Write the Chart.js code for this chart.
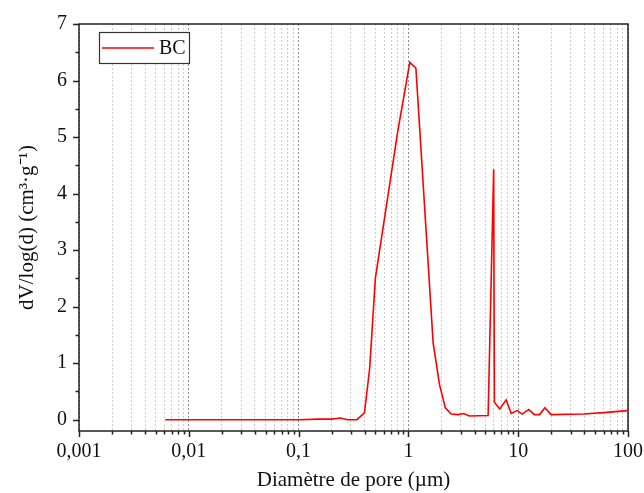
<!DOCTYPE html>
<html>
<head>
<meta charset="utf-8">
<script src="https://cdn.jsdelivr.net/npm/chart.js@4"></script>
<style>
  body{ margin:0; background:#fff; }
</style>
</head>
<body>
<canvas id="poreChart" width="644" height="493"></canvas>
<script>
// pore size distribution
const diameters = [0.0061, 0.01, 0.02, 0.05, 0.1, 0.15, 0.2, 0.24, 0.28, 0.34, 0.398, 0.444, 0.5, 0.8, 1.03, 1.17, 1.68, 1.92, 2.17, 2.45, 2.85, 3.19, 3.59, 5.32, 5.98, 6.07, 6.79, 7.77, 8.63, 9.78, 10.87, 12.49, 14.03, 15.67, 17.5, 19.9, 39.5, 64.3, 98.3];
const bcValues  = [0, 0, 0, 0, 0, 0.01, 0.01, 0.03, 0, 0, 0.12, 0.91, 2.5, 5.1, 6.32, 6.22, 1.36, 0.62, 0.21, 0.10, 0.09, 0.11, 0.065, 0.075, 4.43, 0.31, 0.19, 0.35, 0.11, 0.16, 0.10, 0.18, 0.09, 0.09, 0.21, 0.09, 0.10, 0.13, 0.16];

const decades = [0.001, 0.01, 0.1, 1, 10, 100];
const decadeLabels = ["0,001", "0,01", "0,1", "1", "10", "100"];
const yMajor = [0, 1, 2, 3, 4, 5, 6, 7];

Chart.defaults.font.family = "'Liberation Serif', serif";
Chart.defaults.color = "#111";

function xTicks(){
  const out = [];
  decades.forEach((d, i) => {
    out.push({ value:d, major:true, label:decadeLabels[i] });
    if(i < decades.length - 1){
      for(let m = 2; m <= 9; m++) out.push({ value:m * d, major:false, label:"" });
    }
  });
  return out;
}

function yTicks(){
  const out = [];
  yMajor.forEach((v, i) => {
    out.push({ value:v, major:true, label:String(v) });
    if(i < yMajor.length - 1) out.push({ value:v + 0.5, major:false, label:"" });
  });
  return out;
}

const framePlugin = {
  id:"frame",
  afterDraw(chart){
    const { ctx, chartArea:a, scales:{ x, y } } = chart;
    ctx.save();
    ctx.strokeStyle = "#222";
    ctx.lineWidth = 1.5;
    ctx.beginPath();
    x.ticks.forEach(t => {
      const px = Math.round(x.getPixelForValue(t.value)) + 0.5;
      ctx.moveTo(px, a.bottom);
      ctx.lineTo(px, a.bottom + (t.major ? 6 : 3.5));
    });
    y.ticks.forEach(t => {
      const py = Math.round(y.getPixelForValue(t.value)) + 0.5;
      ctx.moveTo(a.left, py);
      ctx.lineTo(a.left - (t.major ? 6 : 3.5), py);
    });
    ctx.stroke();
    ctx.strokeRect(a.left, a.top, a.right - a.left, a.bottom - a.top);

    // legend box
    const ds = chart.data.datasets[0];
    const bx = a.left + 20, by = a.top + 8, bw = 90, bh = 31;
    ctx.lineWidth = 1.2;
    ctx.strokeStyle = "#333";
    ctx.fillStyle = "#fff";
    ctx.fillRect(bx, by, bw, bh);
    ctx.strokeRect(bx + 0.5, by + 0.5, bw, bh);
    ctx.strokeStyle = ds.borderColor;
    ctx.lineWidth = 1.5;
    ctx.beginPath();
    ctx.moveTo(bx + 3, by + 16);
    ctx.lineTo(bx + 55, by + 16);
    ctx.stroke();
    ctx.fillStyle = "#111";
    ctx.font = "20px 'Liberation Serif', serif";
    ctx.textBaseline = "middle";
    ctx.fillText(ds.label, bx + 60, by + 17);
    ctx.restore();
  }
};

new Chart(document.getElementById("poreChart").getContext("2d"), {
  type:"line",
  data:{
    datasets:[{
      label:"BC",
      data:diameters.map((d, i) => ({ x:d, y:bcValues[i] })),
      borderColor:"#ff0000",
      borderWidth:1.6,
      pointRadius:0,
      tension:0,
      fill:false
    }]
  },
  options:{
    responsive:false,
    animation:false,
    layout:{ padding:{ left:0, right:16, top:24, bottom:0 } },
    plugins:{ legend:{ display:false }, tooltip:{ enabled:false } },
    scales:{
      x:{
        type:"logarithmic",
        min:0.001, max:100,
        afterBuildTicks:s => { s.ticks = xTicks(); },
        afterFit:s => { s.height = 62; s.paddingLeft = 0; s.paddingRight = 0; },
        ticks:{
          autoSkip:false, maxRotation:0, padding:9,
          font:{ size:20 },
          callback:(v, i, ticks) => ticks[i].label
        },
        grid:{
          drawTicks:false,
          lineWidth:1,
          color:c => c.tick && c.tick.major ? "#8c8c8c" : "#cdcdcd"
        },
        border:{ display:false, dash:[2, 2] },
        title:{ display:true, text:"Diamètre de pore (µm)", font:{ size:21 }, padding:{ top:0, bottom:0 } }
      },
      y:{
        min:-0.2, max:7,
        afterBuildTicks:s => { s.ticks = yTicks(); },
        afterFit:s => { s.width = 79; s.paddingTop = 0; s.paddingBottom = 0; },
        ticks:{
          autoSkip:false, padding:12,
          font:{ size:20 },
          callback:(v, i, ticks) => ticks[i].label
        },
        grid:{ display:false, drawTicks:false },
        border:{ display:false },
        title:{ display:true, text:"dV/log(d) (cm³·g⁻¹)", font:{ size:21 }, padding:{ top:15, bottom:0 } }
      }
    }
  },
  plugins:[framePlugin]
});
</script>
</body>
</html>
